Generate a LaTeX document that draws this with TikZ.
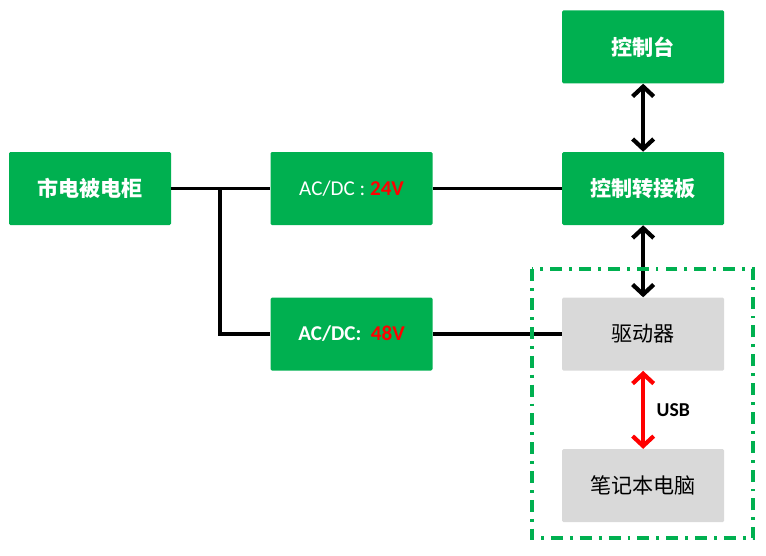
\documentclass[tikz,border=0pt]{standalone}
\usepackage{fontspec}
\setmainfont{Carlito}
\newfontfamily\cjk{Noto Sans CJK SC}
\usetikzlibrary{arrows.meta,positioning,calc}
\definecolor{boxgreen}{RGB}{0,176,80}
\definecolor{boxgrey}{RGB}{217,217,217}
\def \gapA {2.475cm}
\def \gapB {3.225cm}
\def \medY {1.8cm}
\tikzset{
 	greenblock/.style= {draw=none, rectangle, align=center, minimum width=4.05cm, minimum height=1.825cm, fill=boxgreen, text=white, rounded corners=1pt, font=\fontsize{15}{18}\selectfont},
 	greyblock/.style= {greenblock, fill=boxgrey, text=black},
 	link/.style= {draw, line width=2.6pt},
 	duplex/.style= {draw, line width=3pt, {Straight Barb[length=7pt,width=15pt]}-{Straight Barb[length=7pt,width=15pt]}},
 	usblink/.style= {duplex, draw=red},
 	usblabel/.style= {text=black, font=\fontsize{14}{16}\selectfont\bfseries, inner sep=1pt},
	frameblock/.style= {draw=boxgreen, line width=2.8pt, dash pattern=on 8.5pt off 5pt on 2pt off 5pt}
 }
\begin{document}
\begin{tikzpicture}
	\path[use as bounding box] (0,0) rectangle (19.15,-13.875);

%%%%%%%%%%%%%%%%%%%%% Nodes %%%%%%%%%%%%%%%%%%%%%
	\node [greenblock] (mains) at (2.25,-4.7125) {\cjk\bfseries 市电被电柜};
    \node [greenblock, right = \gapA of mains] (ac24) {AC/DC : \textbf{\color{red}24V}};
    \node [greenblock, below = \medY of ac24] (ac48) {\bfseries AC/DC:~~\color{red}48V};
    \node [greenblock, right = \gapB of ac24] (adapter) {\cjk\bfseries 控制转接板};
    \node [greenblock, above = 1.7cm of adapter] (console) {\cjk\bfseries 控制台};
    \node [greyblock, below = \medY of adapter] (driver) {\cjk 驱动器};
    \node [greyblock, below = 1.95cm of driver] (laptop) {\cjk 笔记本电脑};
	\coordinate (split) at ($(mains.east)+(1.225,0)$);

%%%%%%%%%%%%%%%%%%%%% Links %%%%%%%%%%%%%%%%%%%%%
	\draw [link] (mains.east) -- (ac24.west);
	\draw [link] (split) |- (ac48.west);
	\draw [link] (ac24.east) -- (adapter.west);
	\draw [link] (ac48.east) -- (driver.west);
	\draw [duplex] (console) -- (adapter);
	\draw [duplex] (adapter) -- (driver);
	\draw [usblink] (driver) -- node [usblabel, right = 0.25cm] (usb) {USB} (laptop);
	\draw [frameblock] ($(driver.north west)+(-0.75,0.7)$) rectangle ($(laptop.south east)+(0.725,-0.4)$);

\end{tikzpicture}
\end{document}
